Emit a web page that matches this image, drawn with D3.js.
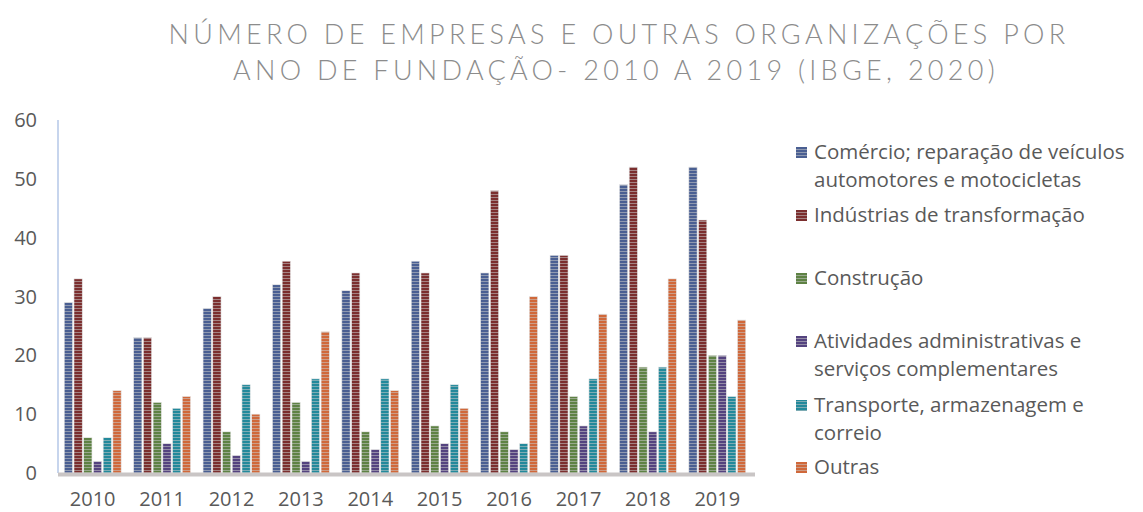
<!DOCTYPE html>
<html>
<head>
<meta charset="utf-8">
<script src="https://cdn.jsdelivr.net/npm/d3@7"></script>
<style>
  body { margin: 0; background: #fff; }
  svg { font-family: "Open Sans", Lato, sans-serif; }
  .tick-label { fill: #595959; font-size: 20px; }
  .legend-text { fill: #595959; font-size: 20.5px; }
  .title { fill: #8c8c8c; font-family: Lato, sans-serif; font-size: 27px; letter-spacing: 4.3px; font-weight: 300; }
</style>
</head>
<body>
<div id="wrapper"></div>
<script>
  // data
  const years = ["2010", "2011", "2012", "2013", "2014", "2015", "2016", "2017", "2018", "2019"];
  const seriesNames = [
    "Comércio; reparação de veículos automotores e motocicletas",
    "Indústrias de transformação",
    "Construção",
    "Atividades administrativas e serviços complementares",
    "Transporte, armazenagem e correio",
    "Outras",
  ];
  const comercio = [29, 23, 28, 32, 31, 36, 34, 37, 49, 52];
  const industrias = [33, 23, 30, 36, 34, 34, 48, 37, 52, 43];
  const construcao = [6, 12, 7, 12, 7, 8, 7, 13, 18, 20];
  const atividades = [2, 5, 3, 2, 4, 5, 4, 8, 7, 20];
  const transporte = [6, 11, 15, 16, 16, 15, 5, 16, 18, 13];
  const outras = [14, 13, 10, 24, 14, 11, 30, 27, 33, 26];
  const yTicks = [0, 10, 20, 30, 40, 50, 60];

  const seriesValues = [comercio, industrias, construcao, atividades, transporte, outras];
  const colors = ["#4a5f92", "#7b2e2e", "#5e8244", "#54437f", "#23899b", "#d0683a"];
  const legendLines = [
    ["Comércio; reparação de veículos", "automotores e motocicletas"],
    ["Indústrias de transformação"],
    ["Construção"],
    ["Atividades administrativas e", "serviços complementares"],
    ["Transporte, armazenagem e", "correio"],
    ["Outras"],
  ];
  const legendY = [152, 215, 278, 341, 405, 467];

  const width = 1143;
  const height = 512;
  const plot = { left: 58, right: 752, top: 120, bottom: 473 };

  const svg = d3.select("#wrapper").append("svg")
    .attr("width", width)
    .attr("height", height);

  //? horizontal stripes give the bars their "textured" look
  const defs = svg.append("defs");
  colors.forEach((c, i) => {
    const p = defs.append("pattern")
      .attr("id", `stripe-${i}`)
      .attr("patternUnits", "userSpaceOnUse")
      .attr("width", 4)
      .attr("height", 3);
    p.append("rect").attr("width", 4).attr("height", 3).attr("fill", c);
    p.append("rect").attr("y", 2).attr("width", 4).attr("height", 1)
      .attr("fill", d3.interpolateRgb(c, "#c8c8c8")(0.55));
  });

  // title
  const title = svg.append("text").attr("class", "title").attr("text-anchor", "middle");
  title.append("tspan").attr("x", 619).attr("y", 44)
    .text("NÚMERO DE EMPRESAS E OUTRAS ORGANIZAÇÕES POR");
  title.append("tspan").attr("x", 616).attr("y", 80)
    .text("ANO DE FUNDAÇÃO- 2010 A 2019 (IBGE, 2020)");

  // scales
  const x = d3.scaleBand().domain(years).range([plot.left, plot.right]).paddingInner(0.18).paddingOuter(0.09);
  const x1 = d3.scaleBand().domain(d3.range(seriesNames.length)).range([0, x.bandwidth()]).paddingInner(0.15);
  const y = d3.scaleLinear().domain([0, 60]).range([plot.bottom, plot.top]);

  // y axis labels
  svg.append("g").selectAll("text")
    .data(yTicks)
    .join("text")
    .attr("class", "tick-label")
    .attr("x", 37)
    .attr("y", (d) => y(d))
    .attr("dy", "0.35em")
    .attr("text-anchor", "end")
    .text((d) => d);

  // vertical axis line
  svg.append("line")
    .attr("x1", plot.left).attr("x2", plot.left)
    .attr("y1", y(60)).attr("y2", y(0))
    .attr("stroke", "#b4c7e7").attr("stroke-width", 1.5);

  // bars
  const groups = svg.append("g").selectAll("g")
    .data(years)
    .join("g")
    .attr("transform", (d) => `translate(${x(d)},0)`);

  groups.selectAll("rect")
    .data((d, yi) => seriesValues.map((vals, si) => ({ si, v: vals[yi] })))
    .join("rect")
    .attr("x", (d) => x1(d.si))
    .attr("y", (d) => y(d.v))
    .attr("width", x1.bandwidth())
    .attr("height", (d) => y(0) - y(d.v))
    .attr("fill", (d) => `url(#stripe-${d.si})`)
    .attr("stroke", "#e6e6e6")
    .attr("stroke-width", 0.6);

  // baseline
  svg.append("line")
    .attr("x1", plot.left).attr("x2", plot.right + 3)
    .attr("y1", y(0) + 1.5).attr("y2", y(0) + 1.5)
    .attr("stroke", "#c9c5c5").attr("stroke-width", 4);

  // x labels
  svg.append("g").selectAll("text")
    .data(years)
    .join("text")
    .attr("class", "tick-label")
    .attr("x", (d) => x(d) + x.bandwidth() / 2)
    .attr("y", 499)
    .attr("dy", "0.35em")
    .attr("text-anchor", "middle")
    .text((d) => d);

  // legend
  const legend = svg.append("g");
  legendLines.forEach((lines, i) => {
    legend.append("rect")
      .attr("x", 796).attr("y", legendY[i] - 5)
      .attr("width", 11).attr("height", 11)
      .attr("fill", `url(#stripe-${i})`);
    lines.forEach((line, j) => {
      legend.append("text")
        .attr("class", "legend-text")
        .attr("x", 814)
        .attr("y", legendY[i] + j * 28)
        .attr("dy", "0.35em")
        .text(line);
    });
  });
</script>
</body>
</html>
